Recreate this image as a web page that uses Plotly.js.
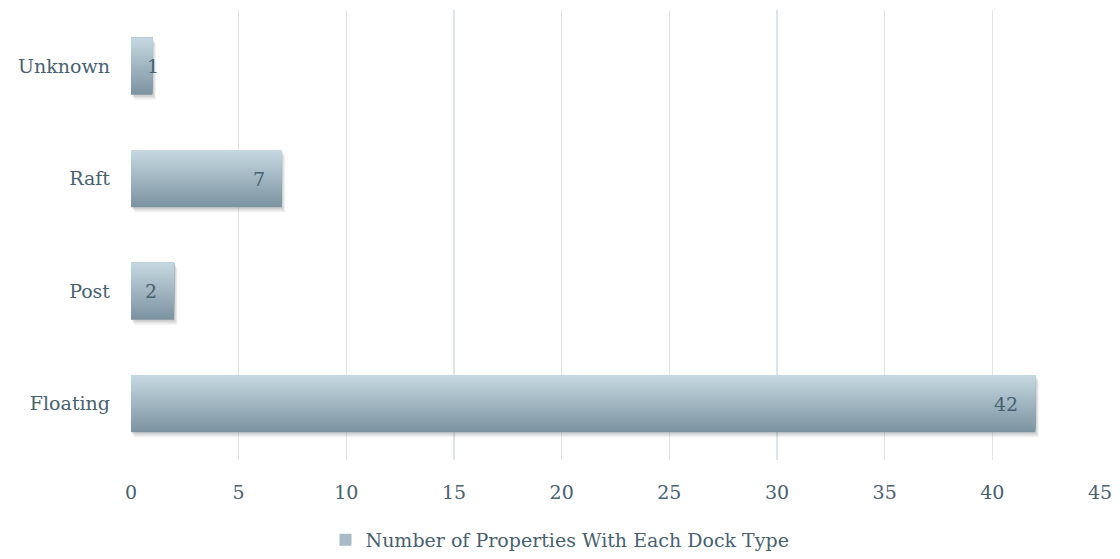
<!DOCTYPE html>
<html>
<head>
<meta charset="utf-8">
<script src="https://cdn.plot.ly/plotly-3.0.1.min.js"></script>
<style>html,body{margin:0;padding:0;background:#fff;}#chart{width:1120px;height:559px;}</style>
</head>
<body>
<div id="chart"></div>
<script>
const categories = ['Floating', 'Post', 'Raft', 'Unknown'];
const dockCounts = [42, 2, 7, 1];
const seriesName = 'Number of Properties With Each Dock Type';
const xTickValues = [0, 5, 10, 15, 20, 25, 30, 35, 40, 45];

const FONT = '"DejaVu Serif", "Liberation Serif", serif';
const TEXT_COLOR = '#48616f';
const FS = 19;
const BAR_WIDTH = 0.505;
const BANDS = 28;
const bottomColor = [124, 147, 161];
const topColor = [197, 216, 225];

function mix(t) {
  const c = bottomColor.map((b, i) => Math.round(b + (topColor[i] - b) * t));
  return 'rgb(' + c.join(',') + ')';
}

const traces = [];
// soft shadow layers
const shadowLayers = [
  { base: 0.16, off: 0.045, a: 0.06 },
  { base: 0.11, off: 0.032, a: 0.08 },
  { base: 0.06, off: 0.018, a: 0.10 }
];
shadowLayers.forEach(s => {
  traces.push({
    type: 'bar', orientation: 'h', y: categories, x: dockCounts, base: s.base,
    width: BAR_WIDTH, offset: -BAR_WIDTH / 2 - s.off,
    marker: { color: 'rgba(40,40,40,' + s.a + ')', line: { width: 0 } },
    hoverinfo: 'skip', showlegend: false
  });
});
// gradient: stacked overlapping layers, each reaching the top edge
const bw = BAR_WIDTH / BANDS;
for (let i = 0; i < BANDS; i++) {
  const start = -BAR_WIDTH / 2 + i * bw;
  traces.push({
    type: 'bar', orientation: 'h', y: categories, x: dockCounts,
    width: BAR_WIDTH / 2 - start, offset: start,
    marker: { color: mix(i / (BANDS - 1)), line: { width: 0 } },
    hoverinfo: 'skip', showlegend: false
  });
}
// legend entry
traces.push({
  type: 'bar', orientation: 'h', y: [null], x: [null], name: seriesName,
  marker: { color: '#a7bac5', line: { width: 0 } }, showlegend: true
});

const maxX = 45;
const plotW = 1120 - 131 - 20;
const annotations = categories.map((c, i) => {
  const v = dockCounts[i];
  const px = v * plotW / maxX;
  const small = px < 30;
  return {
    x: v, y: c, xref: 'x', yref: 'y', text: String(v), showarrow: false,
    xanchor: small ? 'center' : 'right', xshift: small ? 0 : -15,
    font: { family: FONT, size: FS, color: TEXT_COLOR }
  };
});

const layout = {
  width: 1120, height: 559,
  paper_bgcolor: '#ffffff', plot_bgcolor: '#ffffff',
  margin: { l: 131, r: 20, t: 10, b: 99, autoexpand: false },
  barmode: 'overlay',
  font: { family: FONT, size: FS, color: TEXT_COLOR },
  xaxis: {
    range: [0, maxX], tickvals: xTickValues, ticktext: xTickValues.map(String),
    showgrid: true, gridcolor: '#dde5ea', gridwidth: 1.5, zeroline: false,
    showline: false, ticks: '', ticklabelstandoff: 19,
    tickfont: { family: FONT, size: FS, color: TEXT_COLOR }, fixedrange: true
  },
  yaxis: {
    type: 'category', categoryorder: 'array', categoryarray: categories,
    range: [-0.5, 3.5], showgrid: false, zeroline: false, showline: false,
    ticks: '', ticklabelstandoff: 20,
    tickfont: { family: FONT, size: FS, color: TEXT_COLOR }, fixedrange: true
  },
  showlegend: true,
  legend: {
    orientation: 'h', x: 0.5, xanchor: 'center', xref: 'container',
    yref: 'container', y: 0.034, yanchor: 'middle',
    font: { family: FONT, size: FS, color: TEXT_COLOR }, itemwidth: 30
  },
  annotations: annotations
};

Plotly.newPlot('chart', traces, layout, { displayModeBar: false, staticPlot: true });
</script>
</body>
</html>
